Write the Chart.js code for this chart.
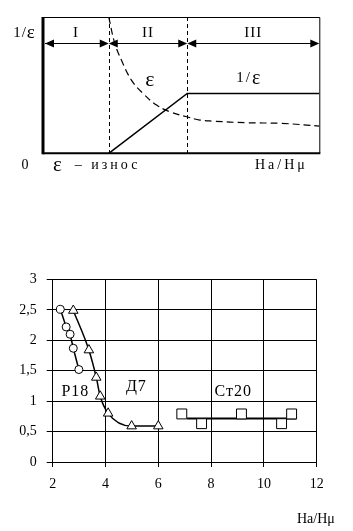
<!DOCTYPE html>
<html lang="ru">
<head>
<meta charset="utf-8">
<title>Износ</title>
<script src="https://cdn.jsdelivr.net/npm/chart.js@4.4.1/dist/chart.umd.min.js"></script>
<style>
  html, body { margin: 0; padding: 0; background: #fff; }
  body { width: 353px; height: 531px; position: relative; overflow: hidden; }
  canvas { position: absolute; left: 0; }
  #scheme { top: 0; }
  #wear { top: 255px; }
</style>
</head>
<body>
<canvas id="scheme" width="353" height="185"></canvas>
<canvas id="wear" width="353" height="276"></canvas>
<script>
// top scheme, relative units 0..100 on both axes
const zoneEdges = [0, 23.8, 52.2, 100];
const zoneNames = ["I", "II", "III"];
const epsX = [23.8, 26.0, 28.4, 32.0, 36.2, 41.1, 45.9, 52.0, 56.8, 61.6, 73.7, 85.8, 100];
const epsY = [100, 80.5, 68.3, 53.7, 43.9, 35.4, 30.5, 26.8, 24.4, 23.6, 22.4, 22.0, 20.0];
const invEpsX = [23.8, 52.2, 100];
const invEpsY = [0, 43.9, 43.9];

// bottom chart: wear vs Ha/Hμ
const p18X = [2.29, 2.51, 2.66, 2.78, 2.99];
const p18Y = [2.51, 2.22, 2.10, 1.87, 1.52];
const d7X = [2.78, 3.37, 3.65, 3.80, 4.10, 4.99, 6.0];
const d7Y = [2.49, 1.84, 1.39, 1.08, 0.80, 0.59, 0.59];
const st20X = [6.89, 7.64, 9.15, 10.67, 11.05];
const st20Y = [0.79, 0.63, 0.79, 0.63, 0.79];
const st20MeanX = [7.09, 11.24];
const st20MeanY = [0.715, 0.715];
const gradeNames = ["Р18", "Д7", "Ст20"];
const gradeLabelX = [2.86, 5.17, 8.84];
const gradeLabelY = [1.16, 1.23, 1.16];
const xTicks = [2, 4, 6, 8, 10, 12];
const yTicks = [0, 0.5, 1, 1.5, 2, 2.5, 3];

const FONT = '"Liberation Serif", "Times New Roman", serif';
const pts = (xs, ys) => xs.map((x, i) => ({ x, y: ys[i] }));

function arrowHead(ctx, tipX, y, dir) {
    ctx.beginPath();
    ctx.moveTo(tipX, y);
    ctx.lineTo(tipX - dir * 9, y - 4);
    ctx.lineTo(tipX - dir * 9, y + 4);
    ctx.closePath();
    ctx.fill();
}

// draws a run of text pieces [string, size, letterSpacing] on one middle line
function rich(ctx, parts, x, y, align) {
    const widths = parts.map(([s, size, sp]) => {
        ctx.font = size + "px " + FONT; ctx.letterSpacing = sp || "0px";
        return ctx.measureText(s).width;
    });
    const total = widths.reduce((a, b) => a + b, 0);
    let cx = align === "left" ? x : x - total / 2;
    ctx.textAlign = "left"; ctx.textBaseline = "middle";
    parts.forEach(([s, size, sp], i) => {
        ctx.font = size + "px " + FONT; ctx.letterSpacing = sp || "0px";
        ctx.fillText(s, cx, y);
        cx += widths[i];
    });
    ctx.letterSpacing = "0px";
}

const schemeDecor = {
    id: "schemeDecor",
    beforeDatasetsDraw(chart) {
        const { ctx, chartArea: a, scales: { x } } = chart;
        ctx.save();
        ctx.strokeStyle = "#000"; ctx.lineWidth = 1; ctx.setLineDash([4, 3]);
        zoneEdges.slice(1, -1).forEach(v => {
            const px = Math.round(x.getPixelForValue(v)) + 0.5;
            ctx.beginPath(); ctx.moveTo(px, a.top); ctx.lineTo(px, a.bottom); ctx.stroke();
        });
        ctx.restore();
    },
    afterDatasetsDraw(chart) {
        const { ctx, chartArea: a, scales: { x, y } } = chart;
        ctx.save();
        ctx.strokeStyle = "#000"; ctx.fillStyle = "#000";
        ctx.lineWidth = 1;
        ctx.beginPath();
        ctx.moveTo(a.left, a.top + 0.5); ctx.lineTo(a.right + 0.5, a.top + 0.5); ctx.lineTo(a.right + 0.5, a.bottom);
        ctx.stroke();
        ctx.lineWidth = 3;
        ctx.beginPath(); ctx.moveTo(a.left, a.top); ctx.lineTo(a.left, a.bottom + 1); ctx.stroke();
        ctx.lineWidth = 2;
        ctx.beginPath(); ctx.moveTo(a.left, a.bottom); ctx.lineTo(a.right + 1, a.bottom); ctx.stroke();

        const ay = Math.round(y.getPixelForValue(81)) + 0.5;
        ctx.lineWidth = 1;
        zoneNames.forEach((name, i) => {
            const x0 = x.getPixelForValue(zoneEdges[i]), x1 = x.getPixelForValue(zoneEdges[i + 1]);
            ctx.beginPath(); ctx.moveTo(x0 + 2, ay); ctx.lineTo(x1 - 2, ay); ctx.stroke();
            arrowHead(ctx, x0 + (i === 0 ? 2 : 0), ay, -1);
            arrowHead(ctx, x1, ay, 1);
            rich(ctx, [[name, 15, "1px"]], (x0 + x1) / 2, ay - 10);
        });

        rich(ctx, [["ε", 22]], x.getPixelForValue(38.7), y.getPixelForValue(53.7));
        rich(ctx, [["1/", 15, "2px"], ["ε", 20]], x.getPixelForValue(74.3), y.getPixelForValue(54.9));
        rich(ctx, [["1/", 15, "1px"], ["ε", 19]], 24, ay - 10);
        rich(ctx, [["0", 14]], 25, a.bottom + 12);
        rich(ctx, [["ε", 21], ["  – износ", 14, "3px"]], 53, a.bottom + 12, "left");
        rich(ctx, [["Ha/Hμ", 14, "3px"]], 255, a.bottom + 12, "left");
        ctx.restore();
    }
};

new Chart(document.getElementById("scheme"), {
    type: "line",
    data: {
        datasets: [
            { data: pts(epsX, epsY), borderColor: "#000", borderWidth: 1.2, borderDash: [7, 4], tension: 0.4, pointRadius: 0 },
            { data: pts(invEpsX, invEpsY), borderColor: "#000", borderWidth: 1.5, tension: 0, pointRadius: 0 }
        ]
    },
    options: {
        responsive: false, animation: false,
        layout: { padding: { left: 43, top: 17, right: 33.7, bottom: 31.7 } },
        plugins: { legend: { display: false }, tooltip: { enabled: false } },
        scales: {
            x: { type: "linear", min: 0, max: 100, display: false },
            y: { type: "linear", min: 0, max: 100, display: false }
        }
    },
    plugins: [schemeDecor]
});

const wearDecor = {
    id: "wearDecor",
    afterDatasetsDraw(chart) {
        const { ctx, scales: { x, y } } = chart;
        ctx.save();
        ctx.fillStyle = "#000";
        gradeNames.forEach((n, i) => rich(ctx, [[n, 16, "1px"]], x.getPixelForValue(gradeLabelX[i]), y.getPixelForValue(gradeLabelY[i])));
        rich(ctx, [["Ha/Hμ", 14]], 297, 264, "left");
        ctx.restore();
    }
};

const marker = { pointBackgroundColor: "#fff", pointBorderColor: "#000", pointBorderWidth: 1, borderColor: "#000" };

new Chart(document.getElementById("wear"), {
    type: "line",
    data: {
        datasets: [
            { ...marker, data: pts(p18X, p18Y), borderWidth: 1.5, pointStyle: "circle", pointRadius: 4, order: 0 },
            { ...marker, data: pts(d7X, d7Y), borderWidth: 1.5, pointStyle: "triangle", pointRadius: 5.5, cubicInterpolationMode: "monotone", order: 0 },
            { ...marker, data: pts(st20X, st20Y), showLine: false, pointStyle: "rect", pointRadius: 7, order: 0 },
            { data: pts(st20MeanX, st20MeanY), borderColor: "#000", borderWidth: 2, pointRadius: 0, order: 1 }
        ]
    },
    options: {
        responsive: false, animation: false,
        layout: { padding: { left: 0, top: 24.5, right: 36.3, bottom: 29 } },
        plugins: { legend: { display: false }, tooltip: { enabled: false } },
        scales: {
            x: {
                type: "linear", min: xTicks[0], max: xTicks[xTicks.length - 1],
                afterBuildTicks: s => { s.ticks = xTicks.map(v => ({ value: v })); },
                afterFit: s => { s.height = 40; },
                grid: { color: "#000", lineWidth: 1, tickLength: 5 },
                border: { color: "#000" },
                ticks: { color: "#000", padding: 9, maxRotation: 0, font: { family: FONT, size: 14 } }
            },
            y: {
                type: "linear", min: yTicks[0], max: yTicks[yTicks.length - 1],
                afterBuildTicks: s => { s.ticks = yTicks.map(v => ({ value: v })); },
                afterFit: s => { s.width = 52.7; },
                grid: { color: "#000", lineWidth: 1, tickLength: 6 },
                border: { color: "#000" },
                ticks: { color: "#000", padding: 10, font: { family: FONT, size: 14 },
                         callback: v => String(v).replace(".", ",") }
            }
        }
    },
    plugins: [wearDecor]
});
</script>
</body>
</html>
